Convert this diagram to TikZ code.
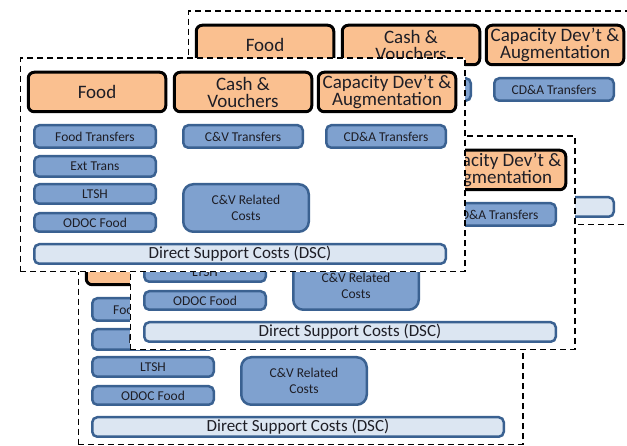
\documentclass[tikz,border=0pt]{standalone}
\usepackage{fontspec}
\setmainfont{Carlito}
\definecolor{hdrfill}{HTML}{FAC090}
\definecolor{bxfill}{HTML}{7FA1CF}
\definecolor{bxline}{HTML}{3A6191}
\definecolor{dscfill}{HTML}{DCE6F2}
\definecolor{txt}{HTML}{1E1E26}
\tikzset{
  hdr/.style={draw=black, line width=3pt, fill=hdrfill, rounded corners=6pt, align=center, text=txt,
    font=\fontsize{19}{17}\selectfont, inner sep=0pt},
  sbox/.style={draw=bxline, line width=2.5pt, fill=bxfill, rounded corners=5pt, align=center, text=txt,
    font=\fontsize{13.5}{16}\selectfont, inner sep=0pt},
  dsc/.style={sbox, fill=dscfill, font=\fontsize{17}{18}\selectfont},
  rel/.style={sbox, rounded corners=10pt},
  cardframe/.style={draw=black, line width=1.5pt, dash pattern=on 6pt off 4pt, fill=white, inner sep=0pt},
}
\newcommand\bx[7]{\node[#1, minimum width={#5pt-#3pt-2.5pt}, minimum height={#6pt-#4pt-2.5pt}] (#2) at ({(#3+#5)/2},{(#4+#6)/2}) {#7};}
% elements of one card, each given the card's name prefix
\newcommand\cFrame[1]{\bx{cardframe}{#1frame}{19}{57}{466}{273}{}}
\newcommand\cFood[1]{\bx{hdr}{#1food}{27}{71}{167}{113}{Food}}
\newcommand\cCash[1]{\bx{hdr}{#1cash}{173}{71}{313}{113}{Cash \&\\Vouchers}}
\newcommand\cCap[1]{\bx{hdr}{#1cap}{317}{71}{457}{113}{Capacity Dev’t \&\\Augmentation}}
\newcommand\cFT[1]{\bx{sbox}{#1ft}{33}{124}{157}{149}{Food Transfers}}
\newcommand\cET[1]{\bx{sbox}{#1et}{33}{155}{157}{178}{Ext Trans}}
\newcommand\cLTSH[1]{\bx{sbox}{#1ltsh}{33}{183}{157}{205}{LTSH}}
\newcommand\cODOC[1]{\bx{sbox}{#1odoc}{33}{212}{157}{233}{ODOC Food}}
\newcommand\cCVT[1]{\bx{sbox}{#1cvt}{182}{124}{304}{149}{C\&V Transfers}}
\newcommand\cCDAT[1]{\bx{sbox}{#1cdat}{325}{124}{447}{149}{CD\&A Transfers}}
\newcommand\cCVR[1]{\bx{rel}{#1cvr}{182}{183}{310}{233}{C\&V Related\\Costs}}
\newcommand\cDSC[1]{\bx{dsc}{#1dsc}{33}{243}{447}{265}{Direct Support Costs (DSC)}}
\begin{document}
\begin{tikzpicture}[x=1pt, y=-1pt]
  \useasboundingbox (0,0) rectangle (627,446);
  \clip (0,0) rectangle (627,446);
  % back card, top right
  \begin{scope}[shift={(168,-47)}]
    \cFrame{A}\cFood{A}\cCash{A}\cCap{A}\cCVT{A}\cCDAT{A}\cDSC{A}
  \end{scope}
  % back card, bottom
  \begin{scope}[shift={(58,173)}]
    \cFrame{C}\cFood{C}\cFT{C}\cET{C}\cLTSH{C}\cODOC{C}\cCVR{C}\cDSC{C}
  \end{scope}
  % middle card
  \begin{scope}[shift={(110,78)}]
    \cFrame{B}\cCap{B}\cCDAT{B}\cLTSH{B}\cODOC{B}\cCVR{B}\cDSC{B}
  \end{scope}
  % front card
  \begin{scope}
    \cFrame{F}\cFood{F}\cCash{F}\cCap{F}\cFT{F}\cET{F}\cLTSH{F}\cODOC{F}
    \cCVT{F}\cCDAT{F}\cCVR{F}\cDSC{F}
  \end{scope}
\end{tikzpicture}
\end{document}
